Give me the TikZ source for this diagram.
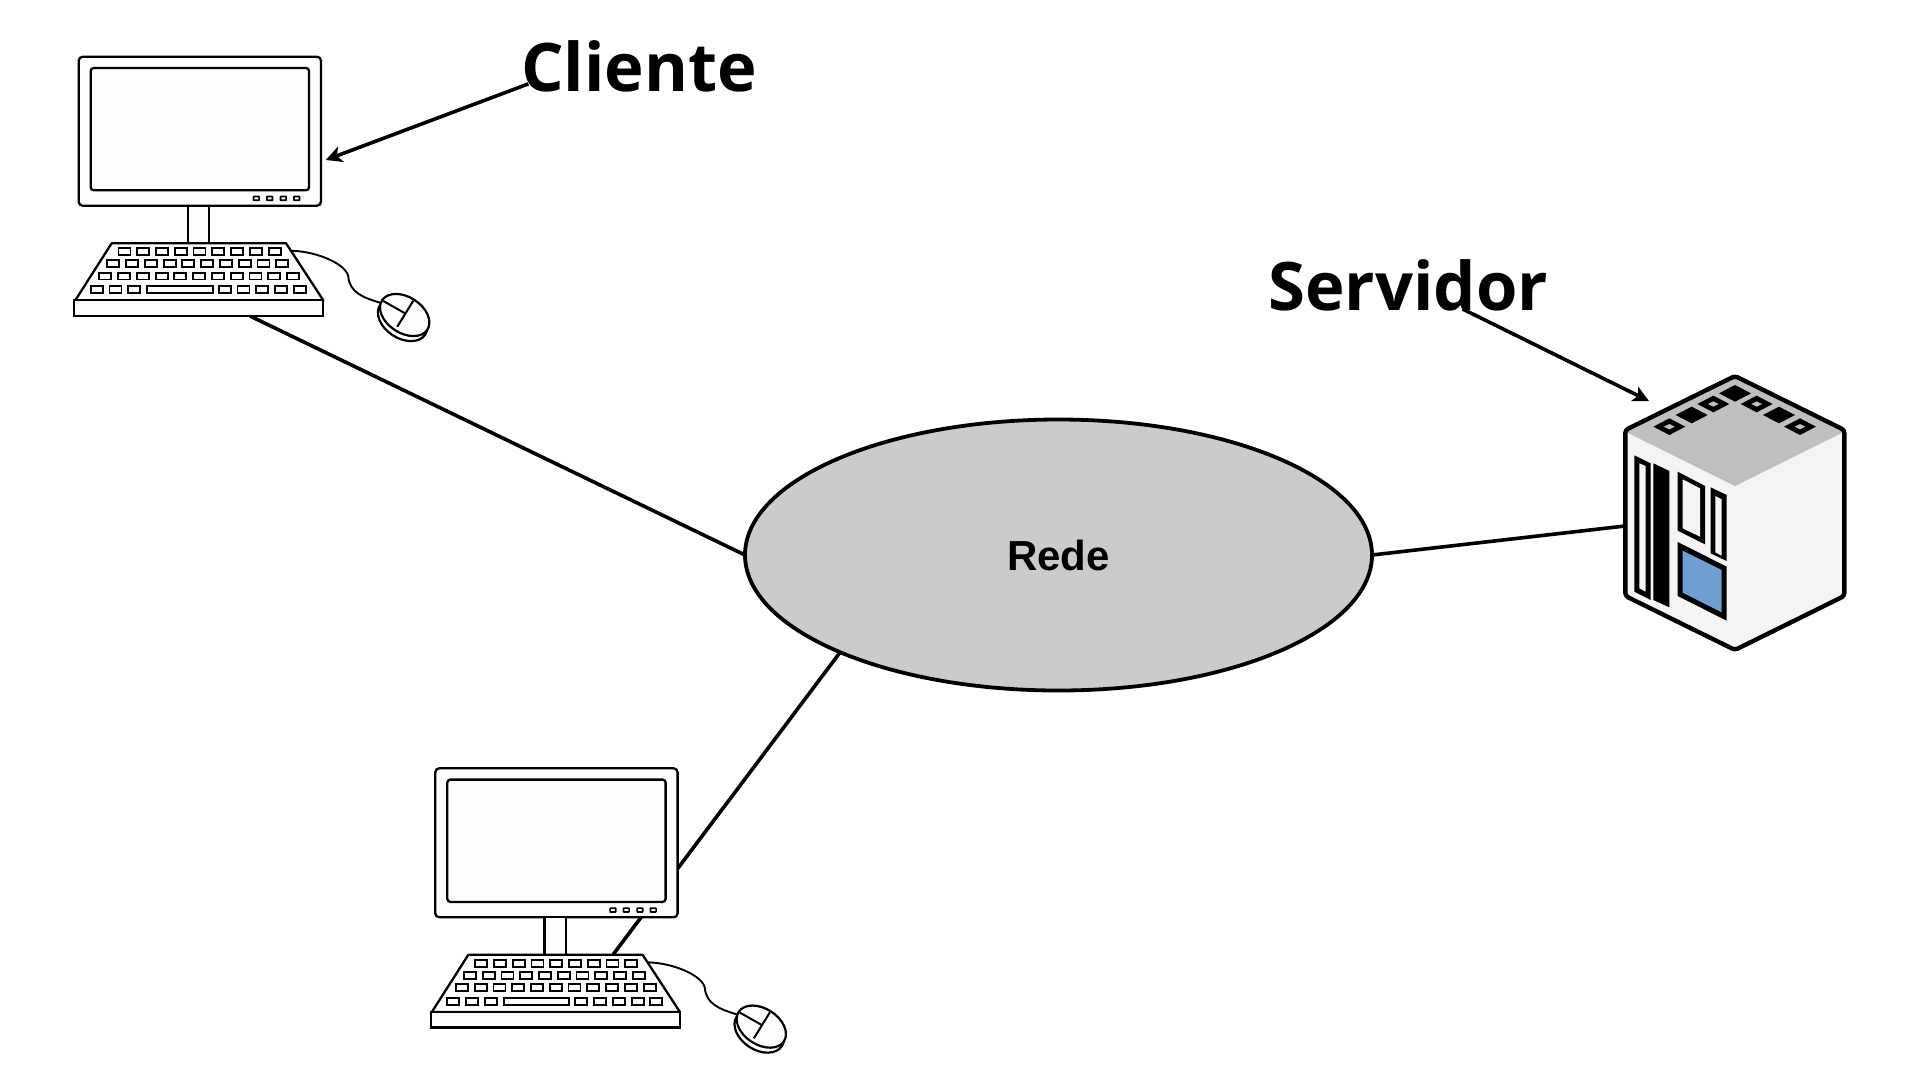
\documentclass[tikz,border=0pt]{standalone}
\usepackage{fontspec}
\usetikzlibrary{arrows.meta,shapes.geometric,backgrounds}
\newfontfamily\rotulofont{Open Sans}[BoldFont={Open Sans Bold}]
\newfontfamily\redefont{Liberation Sans}
\definecolor{correde}{HTML}{CCCBC9}
\definecolor{cortela}{HTML}{FDFEFC}
\definecolor{corface}{HTML}{F4F4F4}
\definecolor{cortampa}{HTML}{BFBFBF}
\definecolor{corazul}{HTML}{6F9FD2}

\tikzset{
  linha/.style={line width=3.6pt},
  seta/.style={line width=3.6pt,-{Stealth[length=16pt,width=16pt,inset=4pt]}},
  contorno/.style={line width=2.3pt,draw=black,fill=cortela},
  tecla/.style={line width=1.8pt,draw=black,fill=white},
  rotulo/.style={anchor=base,inner sep=0pt,font=\rotulofont\bfseries\fontsize{67}{70}\selectfont},
  computador/.pic={
    % monitor
    \draw[contorno,rounded corners=4pt] (0,0) rectangle (242.3,149);
    \draw[contorno,rounded corners=3pt] (12,11.3) rectangle (230.3,133.6);
    \foreach \xb in {177.6,191,204.6,218}
      \draw[tecla,line width=1.7pt,rounded corners=0.5pt] (\xb-2.8,139.8) rectangle (\xb+2.8,143.6);
    \draw[contorno] (109.3,149) rectangle (130.6,186.5);
    % teclado
    \draw[contorno,line join=round] (33,186.5) -- (207.3,186.5) -- (244.6,243.6) -- (-3.4,243.6) -- cycle;
    \draw[contorno] (-4.4,243.6) rectangle (244.6,259.3);
    \foreach \yk/\xk/\nk in {195/45.8/8,207/34.6/9,219.3/26.6/10}
      \foreach \i in {0,...,\nk}
        \draw[tecla] ({\xk+\i*18.77-6},{\yk-3.4}) rectangle ++(12,6.8);
    \foreach \xk in {18,36.8,55.5,146,164.8,183.5,202.3,221}
      \draw[tecla] ({\xk-6},229.6) rectangle ++(12,6.8);
    \draw[tecla] (68.4,229.6) rectangle (133.9,236.4);
    % fio e mouse
    \draw[line width=1.9pt] (213,194) .. controls (240,195) and (268,208) .. (269.6,220)
      .. controls (271,236) and (285,241) .. (301.3,246);
    \draw[contorno,line width=2.2pt] (324,263) ellipse [x radius=27,y radius=18.5,rotate=-33];
    \draw[contorno,line width=2.2pt] (326,258.3) ellipse [x radius=27,y radius=18,rotate=-33];
    \draw[line width=2pt] (304.6,244.3) -- (326.3,256.6);
    \draw[line width=2pt] (334.6,244) -- (318.6,270);
    % pontos de ligacao
    \coordinate (-base) at (171.3,259.3);
    \coordinate (-topo) at (178,186);
    \coordinate (-alvo) at (247,103.3);
  }
}

\begin{document}
\begin{tikzpicture}[x=1pt,y=-1pt]
  \useasboundingbox (0,0) rectangle (1920,1080);

  % rede
  \node[ellipse,draw,line width=3.8pt,fill=correde,minimum width=627pt,minimum height=271pt,
    inner sep=0pt,outer sep=0pt,font=\redefont\bfseries\fontsize{42}{46}\selectfont] (rede) at (1058.5,555) {Rede};

  % rotulos
  \node[rotulo] (cliente) at (639,91) {Cliente};
  \node[rotulo] (servidor) at (1408,310) {Servidor};

  % computadores
  \path (78.7,56.7) pic (pca) {computador};
  \path (435.3,768.3) pic (pcb) {computador};

  % servidor
  \coordinate (srv-esq) at (1625,526);
  \coordinate (srv-alvo) at (1649,401);
  \begin{scope}[shift={(1600,360)},x=0.3333pt,y=-0.3333pt]
    \fill[corface] (405,48) -- (733,210) -- (733,708) -- (405,870) -- (76,708) -- (76,210) -- cycle;
    \fill[cortampa] (405,48) -- (733,215) -- (405,378) -- (76,215) -- cycle;
    \draw[line width=4.4pt,line join=round,rounded corners=3pt] (405,48) -- (733,210) -- (733,708) -- (405,870) -- (76,708) -- (76,210) -- cycle;
    % tampa
    \foreach \cx/\cy in {275/165,405/100,537/165}
      \fill (\cx-48,\cy) -- (\cx,\cy-25) -- (\cx+48,\cy) -- (\cx,\cy+25) -- cycle;
    \foreach \cx/\cy in {208/200,340/132,470/132,600/200} {
      \fill (\cx-48,\cy) -- (\cx,\cy-25) -- (\cx+48,\cy) -- (\cx,\cy+25) -- cycle;
      \fill[cortampa] (\cx-16,\cy) -- (\cx,\cy-8) -- (\cx+16,\cy) -- (\cx,\cy+8) -- cycle;
    }
    % frente
    \fill (103,286) -- (152,310) -- (152,720) -- (103,695) -- cycle;
    \fill[corface] (118,310) -- (137,318) -- (137,695) -- (118,685) -- cycle;
    \fill (160,310) -- (208,333) -- (208,742) -- (160,720) -- cycle;
    \fill (233,335) -- (315,378) -- (315,553) -- (233,512) -- cycle;
    \fill[corface] (248,358) -- (300,385) -- (300,530) -- (248,505) -- cycle;
    \fill (332,382) -- (380,405) -- (380,603) -- (332,580) -- cycle;
    \fill[corface] (346,408) -- (365,418) -- (365,587) -- (346,577) -- cycle;
    \fill (233,546) -- (380,620) -- (380,782) -- (233,708) -- cycle;
    \fill[corazul] (248,572) -- (365,630) -- (365,757) -- (248,698) -- cycle;
  \end{scope}

  % ligacoes por baixo dos computadores
  \begin{scope}[on background layer]
    \draw[linha] (pca-base) -- (rede.west);
    \draw[linha] (pcb-topo) -- (rede.204);
    \draw[linha] (rede.east) -- (srv-esq);
    \draw[seta,shorten <=-8pt] (cliente.190) -- (pca-alvo);
    \draw[seta,shorten <=-4pt] (servidor.-24) -- (srv-alvo);
  \end{scope}
\end{tikzpicture}
\end{document}
